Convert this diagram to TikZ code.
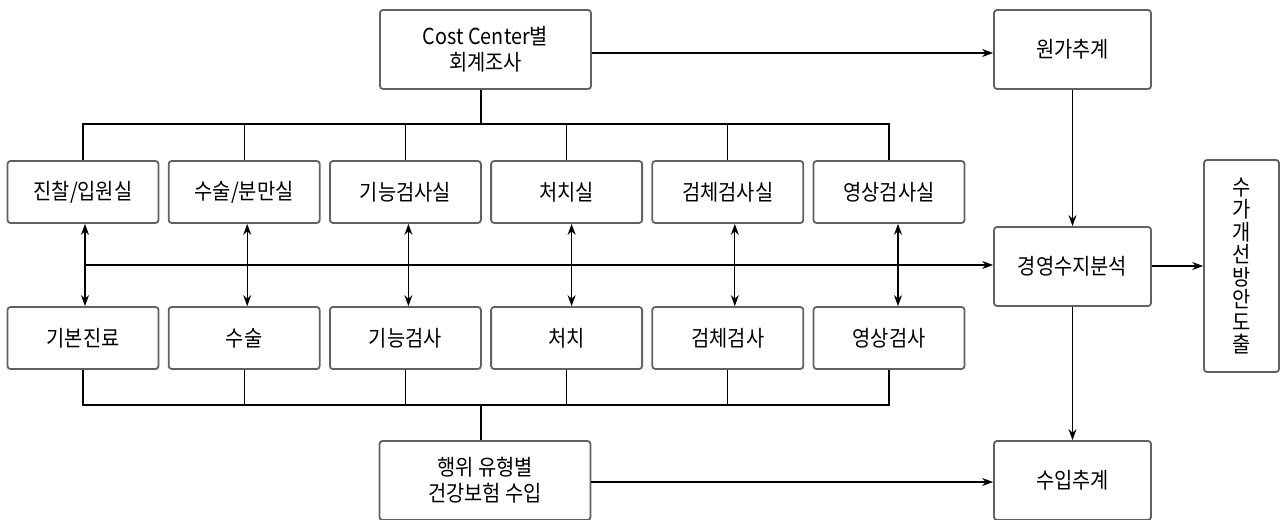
\documentclass[tikz,border=0pt]{standalone}
\usepackage{fontspec}
\setmainfont[FakeStretch=0.9]{Noto Sans CJK KR}
\usetikzlibrary{arrows.meta,calc}
\begin{document}
\begin{tikzpicture}[x=1pt,y=-1pt,
  box/.style={draw=black!62,line width=1.8pt,rounded corners=3pt,fill=white,
    font=\fontsize{22}{26}\selectfont,align=center,inner sep=0pt},
  rowbox/.style={box,minimum width=151pt,minimum height=62pt},
  bigbox/.style={box,minimum width=211pt,minimum height=79pt},
  rbox/.style={box,minimum width=157pt,minimum height=79pt},
  ln/.style={draw=black,line width=1.1pt},
  arr/.style={ln,-{Stealth[length=11pt,width=8pt]}},
  darr/.style={ln,{Stealth[length=11pt,width=8pt]}-{Stealth[length=11pt,width=8pt]}}]
\useasboundingbox (0,0) rectangle (1284,519);
\clip (0,0) rectangle (1284,519);
% main boxes
\node[bigbox] (cc) at (485.5,49.5) {Cost Center별\\회계조사};
\node[bigbox] (ins) at (485,480.5) {행위 유형별\\건강보험 수입};
\node[rbox] (won) at (1072.5,49.5) {원가추계};
\node[rbox] (kyo) at (1072.5,266.5) {경영수지분석};
\node[rbox] (sui) at (1072.5,480.5) {수입추계};
\node[box,minimum width=75pt,minimum height=212pt,font=\fontsize{22}{22.5}\selectfont] (suga) at (1241.5,266) {수\\가\\개\\선\\방\\안\\도\\출};
% upper row
\node[rowbox] (u1) at (83,192) {진찰/입원실};
\node[rowbox] (u2) at (244.2,192) {수술/분만실};
\node[rowbox] (u3) at (405.4,192) {기능검사실};
\node[rowbox] (u4) at (566.6,192) {처치실};
\node[rowbox] (u5) at (727.8,192) {검체검사실};
\node[rowbox] (u6) at (889,192) {영상검사실};
% lower row
\node[rowbox] (l1) at (83,338) {기본진료};
\node[rowbox] (l2) at (244.2,338) {수술};
\node[rowbox] (l3) at (405.4,338) {기능검사};
\node[rowbox] (l4) at (566.6,338) {처치};
\node[rowbox] (l5) at (727.8,338) {검체검사};
\node[rowbox] (l6) at (889,338) {영상검사};
% top bus
\coordinate (tb) at (481,124);
\draw[ln] ([xshift=-4.5pt]cc.south) -- (tb);
\draw[ln] (u1.north) -- (u1.north |- tb) -- (u6.north |- tb) -- (u6.north);
\foreach \i in {2,3,4,5}{\draw[ln] (u\i.north) -- (u\i.north |- tb);}
% bottom bus
\coordinate (bb) at (481,405);
\draw[ln] ([xshift=-4pt]ins.north) -- (bb);
\draw[ln] (l1.south) -- (l1.south |- bb) -- (l6.south |- bb) -- (l6.south);
\foreach \i in {2,3,4,5}{\draw[ln] (l\i.south) -- (l\i.south |- bb);}
% double arrows
\foreach \i/\o in {1/2,2/3,3/3,4/5,5/7,6/9}{
  \draw[darr] ([xshift=\o pt]u\i.south) -- ([xshift=\o pt]l\i.north);}
% horizontal line to kyo
\coordinate (hs) at ($(u1.south)!0.5!(l1.north)+(2,0)$);
\draw[arr] (hs) -- (hs -| kyo.west);
% right arrows
\draw[arr] (cc.east |- 0,53) -- (won.west |- 0,53);
\draw[arr] (ins.east |- 0,482) -- (sui.west |- 0,482);
\draw[arr] (won.south) -- (kyo.north);
\draw[arr] (kyo.south) -- (sui.north);
\draw[arr] (kyo.east |- suga.west) -- (suga.west);
\end{tikzpicture}
\end{document}
